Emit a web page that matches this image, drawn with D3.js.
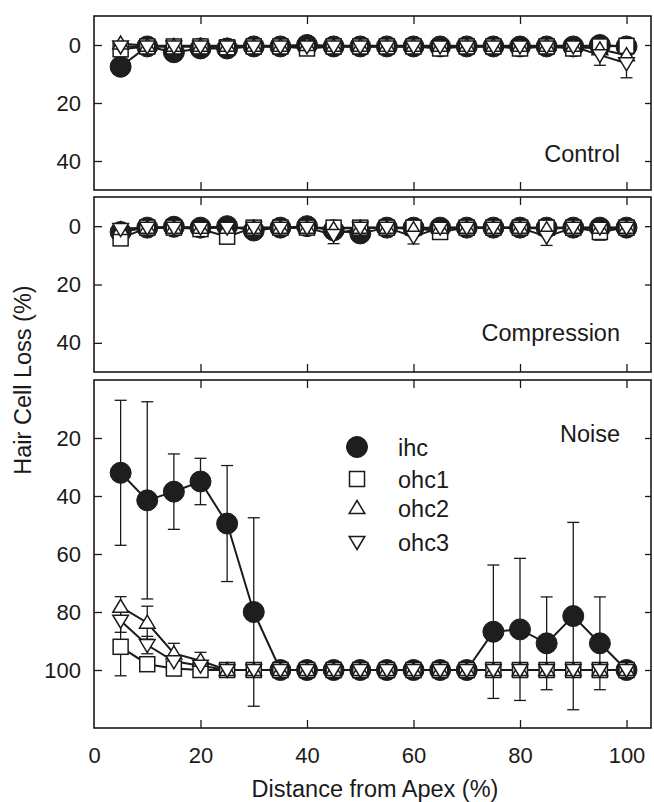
<!DOCTYPE html>
<html><head><meta charset="utf-8">
<script src="https://cdn.jsdelivr.net/npm/d3@7"></script>
<style>
body{margin:0;background:#fff}
svg{display:block}
text{font-family:"Liberation Sans",Arial,sans-serif;fill:#1a1a1a}
</style>
</head><body>
<svg id="c" width="654" height="802"></svg>
<script>
// ---------------- data ----------------
const distance = [5,10,15,20,25,30,35,40,45,50,55,60,65,70,75,80,85,90,95,100];
const xTicks = [0,20,40,60,80,100];
const panelNames = ["Control","Compression","Noise"];
const seriesNames = ["ihc","ohc1","ohc2","ohc3"];

// Control
const ctrlIhc     = [7.5,0.5,2.5,1.2,1.2,0.5,0.5,0,0.5,0.5,0.5,0.5,0.5,0.5,0.5,0.5,0.5,0.5,0,0.5];
const ctrlIhcErr  = [0,0,0,0,0,0,0,0,0,0,0,0,0,0,0,0,0,0,0,0];
const ctrlOhc1    = [1.5,0.5,0.5,0.5,0.8,0.5,0.5,1.2,0.5,0.5,0.5,0.5,1.2,0.5,0.5,1.2,0.5,1.2,0.5,0.3];
const ctrlOhc1Err = [0,0,0,0,0,0,0,0,0,0,0,0,0,0,0,0,0,0,0,0];
const ctrlOhc2    = [-0.5,0.3,0.3,0.3,0.3,0.3,0.3,0,0.3,0.3,0.3,0.3,0.3,0.3,0.3,0.3,0.3,0.3,1.5,3.5];
const ctrlOhc2Err = [0,0,0,0,0,0,0,0,0,0,0,0,0,0,0,0,0,0,0,0];
const ctrlOhc3    = [0.5,0.5,0.5,0.5,0.5,0.5,0.5,0.5,0.5,0.5,0.5,0.5,0.5,0.5,0.5,0.5,0.5,0.5,3.5,6.3];
const ctrlOhc3Err = [0,0,0,0,0,0,0,0,0,0,0,0,0,0,0,0,0,0,3.5,5];

// Compression
const compIhc     = [2,0.5,0.2,0.5,0,1.5,0.5,0,1.4,2.5,0.5,0.5,0.5,0.5,0.5,0.5,0.5,0.5,0.5,0.5];
const compIhcErr  = [0,0,0,0,0,0,0,0,0,0,0,0,0,0,0,0,0,0,0,0];
const compOhc1    = [4.2,0.5,0.5,1,3.6,0.5,0.5,0.5,0.5,0.5,0.5,0.5,2,0.5,0.5,0.5,0.5,0.5,2,0.5];
const compOhc1Err = [0,0,0,0,0,0,0,0,0,0,0,0,0,0,0,0,0,0,2.8,0];
const compOhc2    = [1,0.5,0.5,0.5,0.5,0.5,0.5,0.5,1,0.5,0.5,1,0.5,0.5,0.5,0.5,1,0.5,0.5,0.5];
const compOhc2Err = [0,0,0,0,0,0,0,0,0,0,0,0,0,0,0,0,0,0,0,0];
const compOhc3    = [1,0.5,0.5,0.5,0.5,0.5,0.5,0.5,3,0.5,0.5,3.6,0.5,0.5,0.5,0.5,3.6,0.5,0.5,0.5];
const compOhc3Err = [0,0,0,0,0,0,0,0,3,0,0,2.5,0,0,0,0,3,0,0,0];

// Noise
const noiseIhc     = [32,41.5,38.5,35,49.5,80,100,100,100,100,100,100,100,100,86.8,86,90.8,81.4,90.8,100];
const noiseIhcErr  = [25,34,13,8,20,32.5,0,0,0,0,0,0,0,0,23,24.5,16,32.3,16,0];
const noiseOhc1    = [92,98,99.5,100,100,100,100,100,100,100,100,100,100,100,100,100,100,100,100,100];
const noiseOhc1Err = [10,2,1,0,0,0,0,0,0,0,0,0,0,0,0,0,0,0,0,0];
const noiseOhc2    = [78.2,83.7,94.3,96.8,100,100,100,100,100,100,100,100,100,100,100,100,100,100,100,100];
const noiseOhc2Err = [3.5,5.7,3.5,2.9,0,0,0,0,0,0,0,0,0,0,0,0,0,0,0,0];
const noiseOhc3    = [83,91.4,97,98.5,100,100,100,100,100,100,100,100,100,100,100,100,100,100,100,100];
const noiseOhc3Err = [4,3,0,0,0,0,0,0,0,0,0,0,0,0,0,0,0,0,0,0];

const ctrlYTicks = [0,20,40];
const compYTicks = [0,20,40];
const noiseYTicks = [20,40,60,80,100];

// ---------------- layout ----------------
const svg = d3.select("#c");
const X0 = 94, X1 = 651;
const x = d3.scaleLinear().domain([0,104.6]).range([X0,X1]);

const panels = [
  {name:panelNames[0], top:16, bottom:190, domain:[-10,50], ticks:ctrlYTicks, labelY:162,
   series:[[ctrlIhc,ctrlIhcErr],[ctrlOhc1,ctrlOhc1Err],[ctrlOhc2,ctrlOhc2Err],[ctrlOhc3,ctrlOhc3Err]]},
  {name:panelNames[1], top:197, bottom:372, domain:[-10,50], ticks:compYTicks, labelY:341,
   series:[[compIhc,compIhcErr],[compOhc1,compOhc1Err],[compOhc2,compOhc2Err],[compOhc3,compOhc3Err]]},
  {name:panelNames[2], top:380, bottom:728, domain:[0,120], ticks:noiseYTicks, labelY:442,
   series:[[noiseIhc,noiseIhcErr],[noiseOhc1,noiseOhc1Err],[noiseOhc2,noiseOhc2Err],[noiseOhc3,noiseOhc3Err]]}
];

const INK = "#1a1a1a";
const triUp = "M0,-7.5L7.8,5.5L-7.8,5.5Z";
const triDown = "M0,7.5L7.8,-5.5L-7.8,-5.5Z";

function drawMarker(g, kind, cx, cy){
  if(kind===0){
    g.append("circle").attr("cx",cx).attr("cy",cy).attr("r",10.5)
      .attr("fill","#1e1e1e").attr("stroke",INK).attr("stroke-width",1);
  } else if(kind===1){
    g.append("rect").attr("x",cx-7.5).attr("y",cy-7.5).attr("width",15).attr("height",15)
      .attr("fill","#fff").attr("stroke",INK).attr("stroke-width",1.5);
  } else {
    g.append("path").attr("d", kind===2?triUp:triDown)
      .attr("transform",`translate(${cx},${cy})`)
      .attr("fill","#fff").attr("stroke",INK).attr("stroke-width",1.5);
  }
}

panels.forEach((p,pi)=>{
  const y = d3.scaleLinear().domain(p.domain).range([p.top,p.bottom]);
  const g = svg.append("g");

  // axes (inward ticks)
  const left = g.append("g").attr("transform",`translate(${X0},0)`)
    .call(d3.axisLeft(y).tickValues(p.ticks).tickSize(-8).tickPadding(13));
  const right = g.append("g").attr("transform",`translate(${X1},0)`)
    .call(d3.axisRight(y).tickValues(p.ticks).tickSize(-6).tickFormat(""));
  const top = g.append("g").attr("transform",`translate(0,${p.top})`)
    .call(d3.axisTop(x).tickValues(xTicks.slice(1)).tickSize(-8).tickFormat(""));
  const bot = g.append("g").attr("transform",`translate(0,${p.bottom})`)
    .call(d3.axisBottom(x).tickValues(pi===2?xTicks:xTicks.slice(1)).tickSize(-8).tickPadding(19)
      .tickFormat(pi===2?d3.format("d"):""));
  if(pi===2){ bot.selectAll(".tick").filter(d=>d===0).select("line").remove(); }
  [left,right,top,bot].forEach(a=>{
    a.select(".domain").remove();
    a.selectAll(".tick line").attr("stroke",INK).attr("stroke-width",1.3);
    a.selectAll("text").attr("font-size",22).attr("fill",INK)
      .attr("font-family",'"Liberation Sans",Arial,sans-serif');
  });

  // frame
  g.append("rect").attr("x",X0).attr("y",p.top).attr("width",X1-X0).attr("height",p.bottom-p.top)
    .attr("fill","none").attr("stroke",INK).attr("stroke-width",1.6);

  // error bars
  p.series.forEach(([vals,errs])=>{
    vals.forEach((v,i)=>{
      const e = errs[i];
      if(!e) return;
      const cx = x(distance[i]);
      const y1 = y(v-e), y2 = y(v+e);
      g.append("line").attr("x1",cx).attr("x2",cx).attr("y1",y1).attr("y2",y2)
        .attr("stroke",INK).attr("stroke-width",1.3);
      [y1,y2].forEach(yy=>g.append("line").attr("x1",cx-6).attr("x2",cx+6).attr("y1",yy).attr("y2",yy)
        .attr("stroke",INK).attr("stroke-width",1.3));
    });
  });

  // lines
  const line = d3.line().x((d,i)=>x(distance[i])).y(d=>y(d));
  p.series.forEach(([vals])=>{
    g.append("path").attr("d",line(vals)).attr("fill","none")
      .attr("stroke",INK).attr("stroke-width",2);
  });

  // markers
  p.series.forEach(([vals],si)=>{
    vals.forEach((v,i)=>drawMarker(g, si, x(distance[i]), y(v)));
  });

  // panel label
  g.append("text").attr("x",620).attr("y",p.labelY).attr("text-anchor","end")
    .attr("font-size",23.5).text(p.name);
});

// legend (Noise panel)
const legY = [447,479,508,542];
const legG = svg.append("g");
seriesNames.forEach((s,i)=>{
  drawMarker(legG, i, 357, legY[i]);
  legG.append("text").attr("x",398).attr("y",legY[i]+8.5).attr("font-size",23.5).text(s);
});

// axis titles
svg.append("text").attr("x",375).attr("y",797).attr("text-anchor","middle")
  .attr("font-size",23.5).text("Distance from Apex (%)");
svg.append("text").attr("transform","translate(31,380) rotate(-90)").attr("text-anchor","middle")
  .attr("font-size",23.5).text("Hair Cell Loss (%)");
</script>
</body></html>
